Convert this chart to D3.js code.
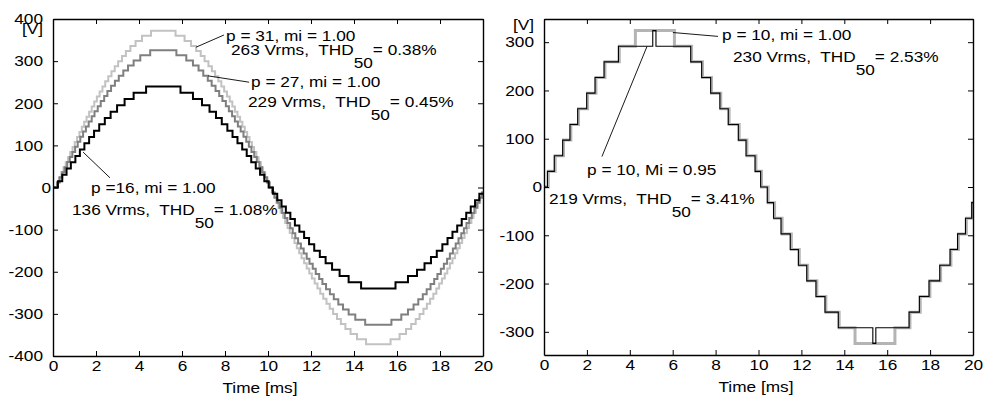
<!DOCTYPE html>
<html>
<head>
<meta charset="utf-8">
<script src="https://cdn.jsdelivr.net/npm/d3@7"></script>
<style>
  body { margin: 0; background: #fff; }
  svg text { font-family: "Liberation Sans", Arial, sans-serif; font-size: 15px; fill: #000; white-space: pre; }
</style>
</head>
<body>
<svg id="chart" width="989" height="399"></svg>
<script>
// ---- data ----
const xTicks = [0, 2, 4, 6, 8, 10, 12, 14, 16, 18, 20];
const leftYTicks = [-400, -300, -200, -100, 0, 100, 200, 300, 400];
const rightYTicks = [-300, -200, -100, 0, 100, 200, 300];

// left panel: times (ms) where each level is reached in the first quarter,
// waveform is symmetric about peakCentre and half-wave symmetric
const peakCentre = 5.13;
const riseP31 = [0.18, 0.28, 0.39, 0.49, 0.59, 0.70, 0.80, 0.91, 1.01, 1.12, 1.23, 1.34, 1.45, 1.56, 1.68, 1.80,
  1.92, 2.04, 2.17, 2.30, 2.43, 2.57, 2.72, 2.87, 3.03, 3.21, 3.39, 3.60, 3.84, 4.14, 4.56];
const riseP27 = [0.19, 0.31, 0.43, 0.54, 0.66, 0.78, 0.90, 1.03, 1.15, 1.27, 1.40, 1.53, 1.66, 1.80, 1.93, 2.08,
  2.22, 2.38, 2.53, 2.70, 2.88, 3.06, 3.27, 3.49, 3.75, 4.06, 4.52];
const riseP16 = [0.23, 0.43, 0.63, 0.83, 1.04, 1.25, 1.46, 1.68, 1.91, 2.15, 2.41, 2.68, 2.98, 3.33, 3.75, 4.33];
const stepP31 = 12, stepP27 = 12.07, stepP16 = 15;

// right panel: switching times (ms) and level index after each switch, full period
const stepP10 = 32.4;
const timesMi100 = [0.2, 0.52, 0.91, 1.25, 1.61, 2.03, 2.42, 2.84, 3.51, 4.26, 6.08, 6.88, 7.39, 7.81, 8.24, 8.63, 9.1, 9.46, 9.88, 10.14,
  10.45, 10.75, 11.1, 11.53, 11.9, 12.29, 12.72, 13.14, 13.76, 14.5, 16.36, 17.06, 17.54, 17.99, 18.49, 18.97, 19.32, 19.69, 19.97];
const levelsMi100 = [1, 2, 3, 4, 5, 6, 7, 8, 9, 10, 9, 8, 7, 6, 5, 4, 3, 2, 1, 0,
  -1, -2, -3, -4, -5, -6, -7, -8, -9, -10, -9, -8, -7, -6, -5, -4, -3, -2, -1];
const timesMi095 = [0.16, 0.48, 0.87, 1.21, 1.57, 1.99, 2.38, 2.8, 3.47, 5.07, 5.22, 6.84, 7.35, 7.77, 8.2, 8.59, 9.06, 9.42, 9.84, 10.1,
  10.41, 10.7, 11.05, 11.48, 11.86, 12.25, 12.68, 13.1, 13.72, 15.33, 15.47, 17.02, 17.5, 17.95, 18.45, 18.93, 19.28, 19.65, 19.94];
const levelsMi095 = [1, 2, 3, 4, 5, 6, 7, 8, 9, 10, 9, 8, 7, 6, 5, 4, 3, 2, 1, 0,
  -1, -2, -3, -4, -5, -6, -7, -8, -9, -10, -9, -8, -7, -6, -5, -4, -3, -2, -1];

const SX = 1.15; // text in the picture is a bit wider than the font

function stairsFromRise(rise, step) {
  let tr = [];
  [0, 1].forEach(h => {
    const s = h ? -1 : 1, off = 10 * h;
    rise.forEach((t, i) => tr.push([t + off, s * (i + 1) * step]));
    rise.forEach((t, i) => tr.push([2 * peakCentre - t + off, s * i * step]));
  });
  tr = tr.filter(d => d[0] < 20).sort((a, b) => a[0] - b[0]);
  const pts = [[0, 0]].concat(tr);
  pts.push([20, pts[pts.length - 1][1]]);
  return pts;
}

function stairsFromSwitches(times, levels, step) {
  const pts = [[0, 0]].concat(times.map((t, i) => [t, levels[i] * step]));
  pts.push([20, pts[pts.length - 1][1]]);
  return pts;
}

function addText(g, x, y, parts, anchor) {
  const t = g.append("text")
    .attr("transform", `translate(${x},${y}) scale(${SX},1)`)
    .attr("text-anchor", anchor || "start");
  parts.forEach(p => t.append("tspan").attr("dy", p[1] || 0).text(p[0]));
  return t;
}

const svg = d3.select("#chart");
const plainNum = d => String(d); // hyphen minus like the original, not U+2212

function drawPanel(cfg) {
  const w = cfg.w, h = cfg.h;
  const g = svg.append("g").attr("transform", `translate(${cfg.left},${cfg.top})`);
  const x = d3.scaleLinear().domain([0, 20]).range([0, w]);
  const y = d3.scaleLinear().domain(cfg.yDomain).range([h, 0]);

  const line = d3.line().x(d => x(d[0])).y(d => y(d[1])).curve(d3.curveStepAfter);
  cfg.series.forEach(s => {
    g.append("path").attr("d", line(s.pts))
      .attr("fill", "none").attr("stroke", s.color).attr("stroke-width", s.width);
  });

  // axes, ticks pointing inwards on all four sides
  const ax = [];
  ax.push(g.append("g").attr("transform", `translate(0,${h})`)
    .call(d3.axisBottom(x).tickValues(xTicks).tickFormat(plainNum).tickSizeInner(-5).tickSizeOuter(0).tickPadding(4)));
  ax.push(g.append("g")
    .call(d3.axisTop(x).tickValues(xTicks).tickSizeInner(-5).tickSizeOuter(0).tickFormat("")));
  ax.push(g.append("g")
    .call(d3.axisLeft(y).tickValues(cfg.yTicks).tickFormat(plainNum).tickSizeInner(-5).tickSizeOuter(0)));
  ax.push(g.append("g").attr("transform", `translate(${w},0)`)
    .call(d3.axisRight(y).tickValues(cfg.yTicks).tickSizeInner(-5).tickSizeOuter(0).tickFormat("")));
  ax.forEach(a => {
    a.selectAll("line").attr("stroke", "#000");
    a.select(".domain").attr("stroke", "#000").attr("stroke-width", 1.4);
  });
  ax[0].selectAll("text").attr("transform", `scale(${SX},1)`);
  ax[2].selectAll("text").attr("x", 0)
    .attr("transform", d => `translate(${d === 0 ? -2 : -10},0) scale(${SX},1)`);

  addText(g, -10, cfg.unitY, [["[V]"]], "end");
  addText(g, cfg.titleX, h + 37, [["Time [ms]"]], "middle");

  cfg.notes.forEach(n => {
    g.append("line")
      .attr("x1", x(n.from[0])).attr("y1", y(n.from[1]))
      .attr("x2", x(n.to[0])).attr("y2", y(n.to[1]))
      .attr("stroke", "#000").attr("stroke-width", 0.9);
    addText(g, n.l1[0] - cfg.left, n.l1[1] - cfg.top, [[n.line1]]);
    addText(g, n.l2[0] - cfg.left, n.l2[1] - cfg.top,
      [[n.line2], ["50", 13], [n.line3, -13]]);
  });
}

drawPanel({
  left: 53, top: 19, w: 430, h: 337,
  yDomain: [-400, 400], yTicks: leftYTicks, unitY: 15, titleX: 207,
  series: [
    { pts: stairsFromRise(riseP31, stepP31), color: "#c2c2c2", width: 2 },
    { pts: stairsFromRise(riseP27, stepP27), color: "#7f7f7f", width: 2 },
    { pts: stairsFromRise(riseP16, stepP16), color: "#000", width: 2 }
  ],
  notes: [
    { from: [6.65, 333], to: [7.95, 362], l1: [226, 41], l2: [231, 55],
      line1: "p = 31, mi = 1.00", line2: "263 Vrms,  THD", line3: "= 0.38%" },
    { from: [7.21, 265], to: [9.12, 250], l1: [251, 87], l2: [248, 107],
      line1: "p = 27, mi = 1.00", line2: "229 Vrms,  THD", line3: "= 0.45%" },
    { from: [1.4, 84], to: [2.65, 23], l1: [91, 193], l2: [72, 215],
      line1: "p =16, mi = 1.00", line2: "136 Vrms,  THD", line3: "= 1.08%" }
  ]
});

drawPanel({
  left: 544, top: 19, w: 429, h: 336,
  yDomain: [-348, 348], yTicks: rightYTicks, unitY: 11, titleX: 212,
  series: [
    { pts: stairsFromSwitches(timesMi100, levelsMi100, stepP10), color: "#b4b4b4", width: 3 },
    { pts: stairsFromSwitches(timesMi095, levelsMi095, stepP10), color: "#000", width: 1.1 }
  ],
  notes: [
    { from: [6.01, 320], to: [8.11, 312], l1: [722, 40], l2: [733, 62],
      line1: "p = 10, mi = 1.00", line2: "230 Vrms,  THD", line3: "= 2.53%" },
    { from: [4.8, 291], to: [2.7, 63], l1: [587, 175], l2: [549, 204],
      line1: "p = 10, Mi = 0.95", line2: "219 Vrms,  THD", line3: "= 3.41%" }
  ]
});
</script>
</body>
</html>
